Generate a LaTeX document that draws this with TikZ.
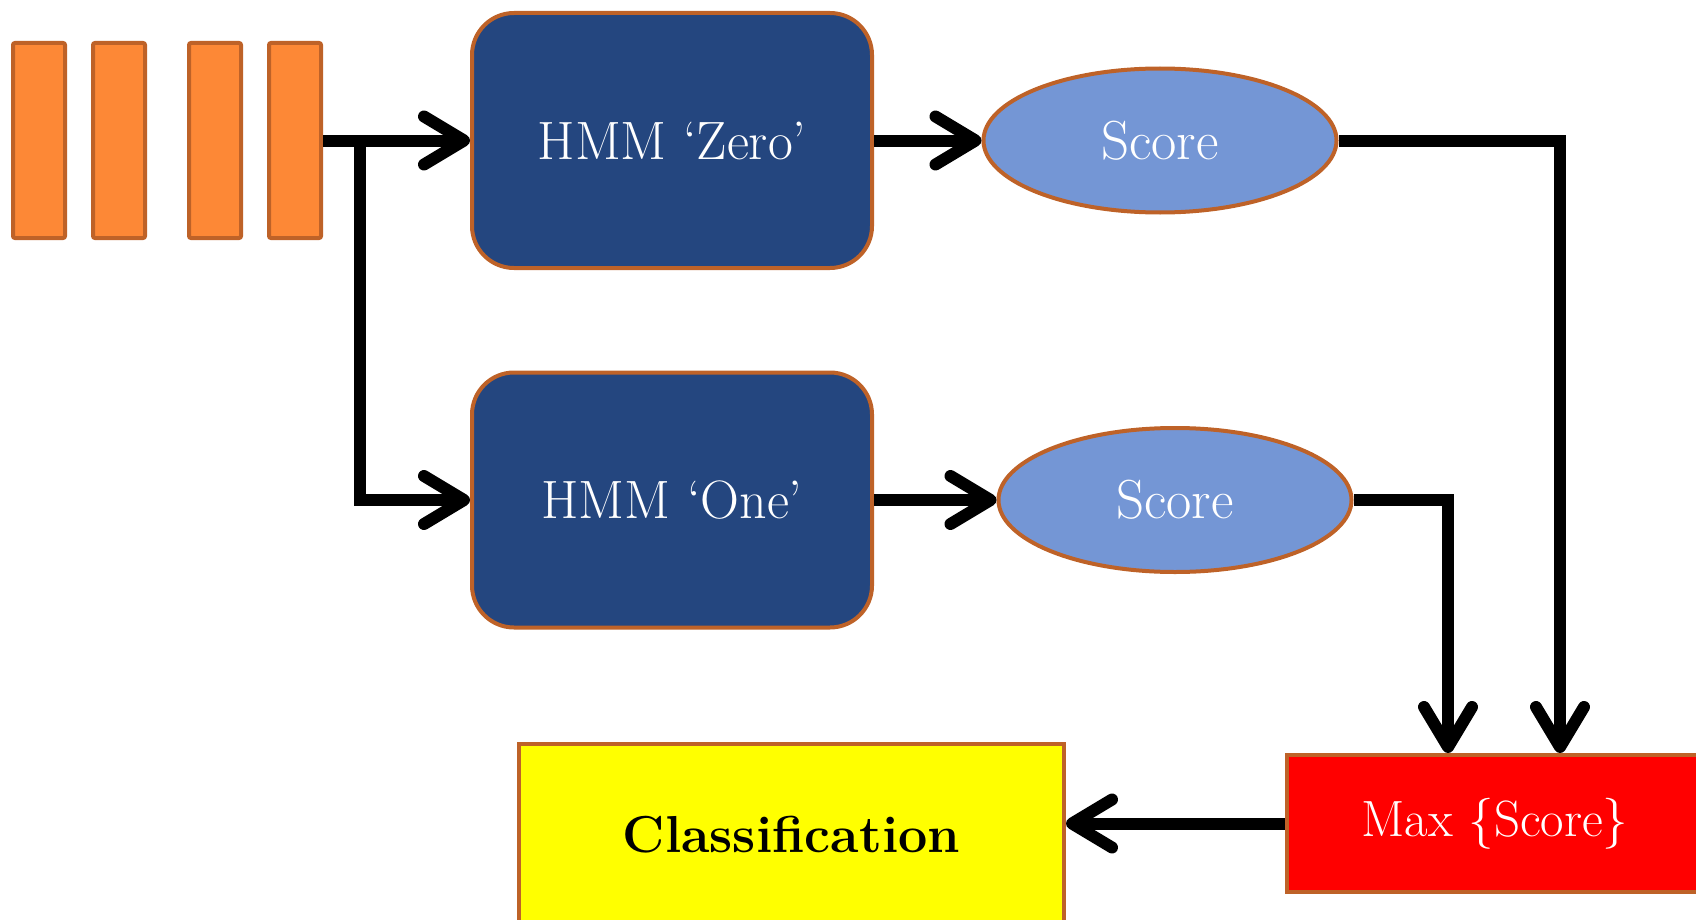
\documentclass[tikz,border=0pt]{standalone}
\usetikzlibrary{arrows.meta,shapes.geometric}
\definecolor{bord}{HTML}{BE6228}
\definecolor{barfill}{HTML}{FD8836}
\definecolor{hmmfill}{HTML}{24467F}
\definecolor{ellfill}{HTML}{7496D5}
\definecolor{yel}{HTML}{FFFF00}
\definecolor{redf}{HTML}{FF0000}
\tikzset{
  bar/.style={draw=bord, line width=2pt, fill=barfill, minimum width=26pt, minimum height=97.5pt, inner sep=0pt, rounded corners=1pt},
  hmmbox/.style={draw=bord, line width=2pt, fill=hmmfill, minimum width=200pt, minimum height=127.5pt, rounded corners=21pt, text=white, font=\fontsize{27}{31}\selectfont},
  scoreell/.style={ellipse, draw=bord, line width=2pt, fill=ellfill, minimum width=176.5pt, minimum height=72pt, inner sep=0pt, text=white, font=\fontsize{27.5}{31}\selectfont},
  maxbox/.style={draw=bord, line width=2pt, fill=redf, minimum width=208pt, minimum height=68.5pt, text=white, font=\fontsize{25.5}{29}\selectfont},
  classbox/.style={draw=bord, line width=2pt, fill=yel, minimum width=272.5pt, minimum height=91pt, font=\fontsize{26}{30}\selectfont\bfseries},
  conn/.style={line width=6pt, -{Straight Barb[length=20pt, width=24pt, round]}},
}
\begin{document}
\begin{tikzpicture}[x=0.5pt,y=-0.5pt]
\useasboundingbox (0,0) rectangle (1696,920);
\node[bar] (b1) at (39,140.5) {};
\node[bar] (b2) at (119,140.5) {};
\node[bar] (b3) at (215,140.5) {};
\node[bar] (b4) at (295,140.5) {};
\node[hmmbox] (h0) at (672,140.5) {HMM `Zero'};
\node[hmmbox] (h1) at (672,500) {HMM `One'};
\node[scoreell] (s0) at (1160,140.5) {Score};
\node[scoreell] (s1) at (1175,500) {Score};
\node[maxbox] (mx) at (1495,823.5) {Max \{Score\}};
\node[classbox] (cl) at (791.5,835) {Classification};
\coordinate (br) at (360,140.5);
\draw[conn] (b4.east) -- (h0.west);
\draw[conn] (br) |- (h1.west);
\draw[conn] (h0.east) -- (s0.west);
\draw[conn] (h1.east) -- (s1.west);
\draw[conn] (s0.east) -| ([xshift=32.5pt]mx.north);
\draw[conn] (s1.east) -| ([xshift=-23.5pt]mx.north);
\draw[conn] (mx.west) -- (mx.west -| cl.east);
\end{tikzpicture}
\end{document}
